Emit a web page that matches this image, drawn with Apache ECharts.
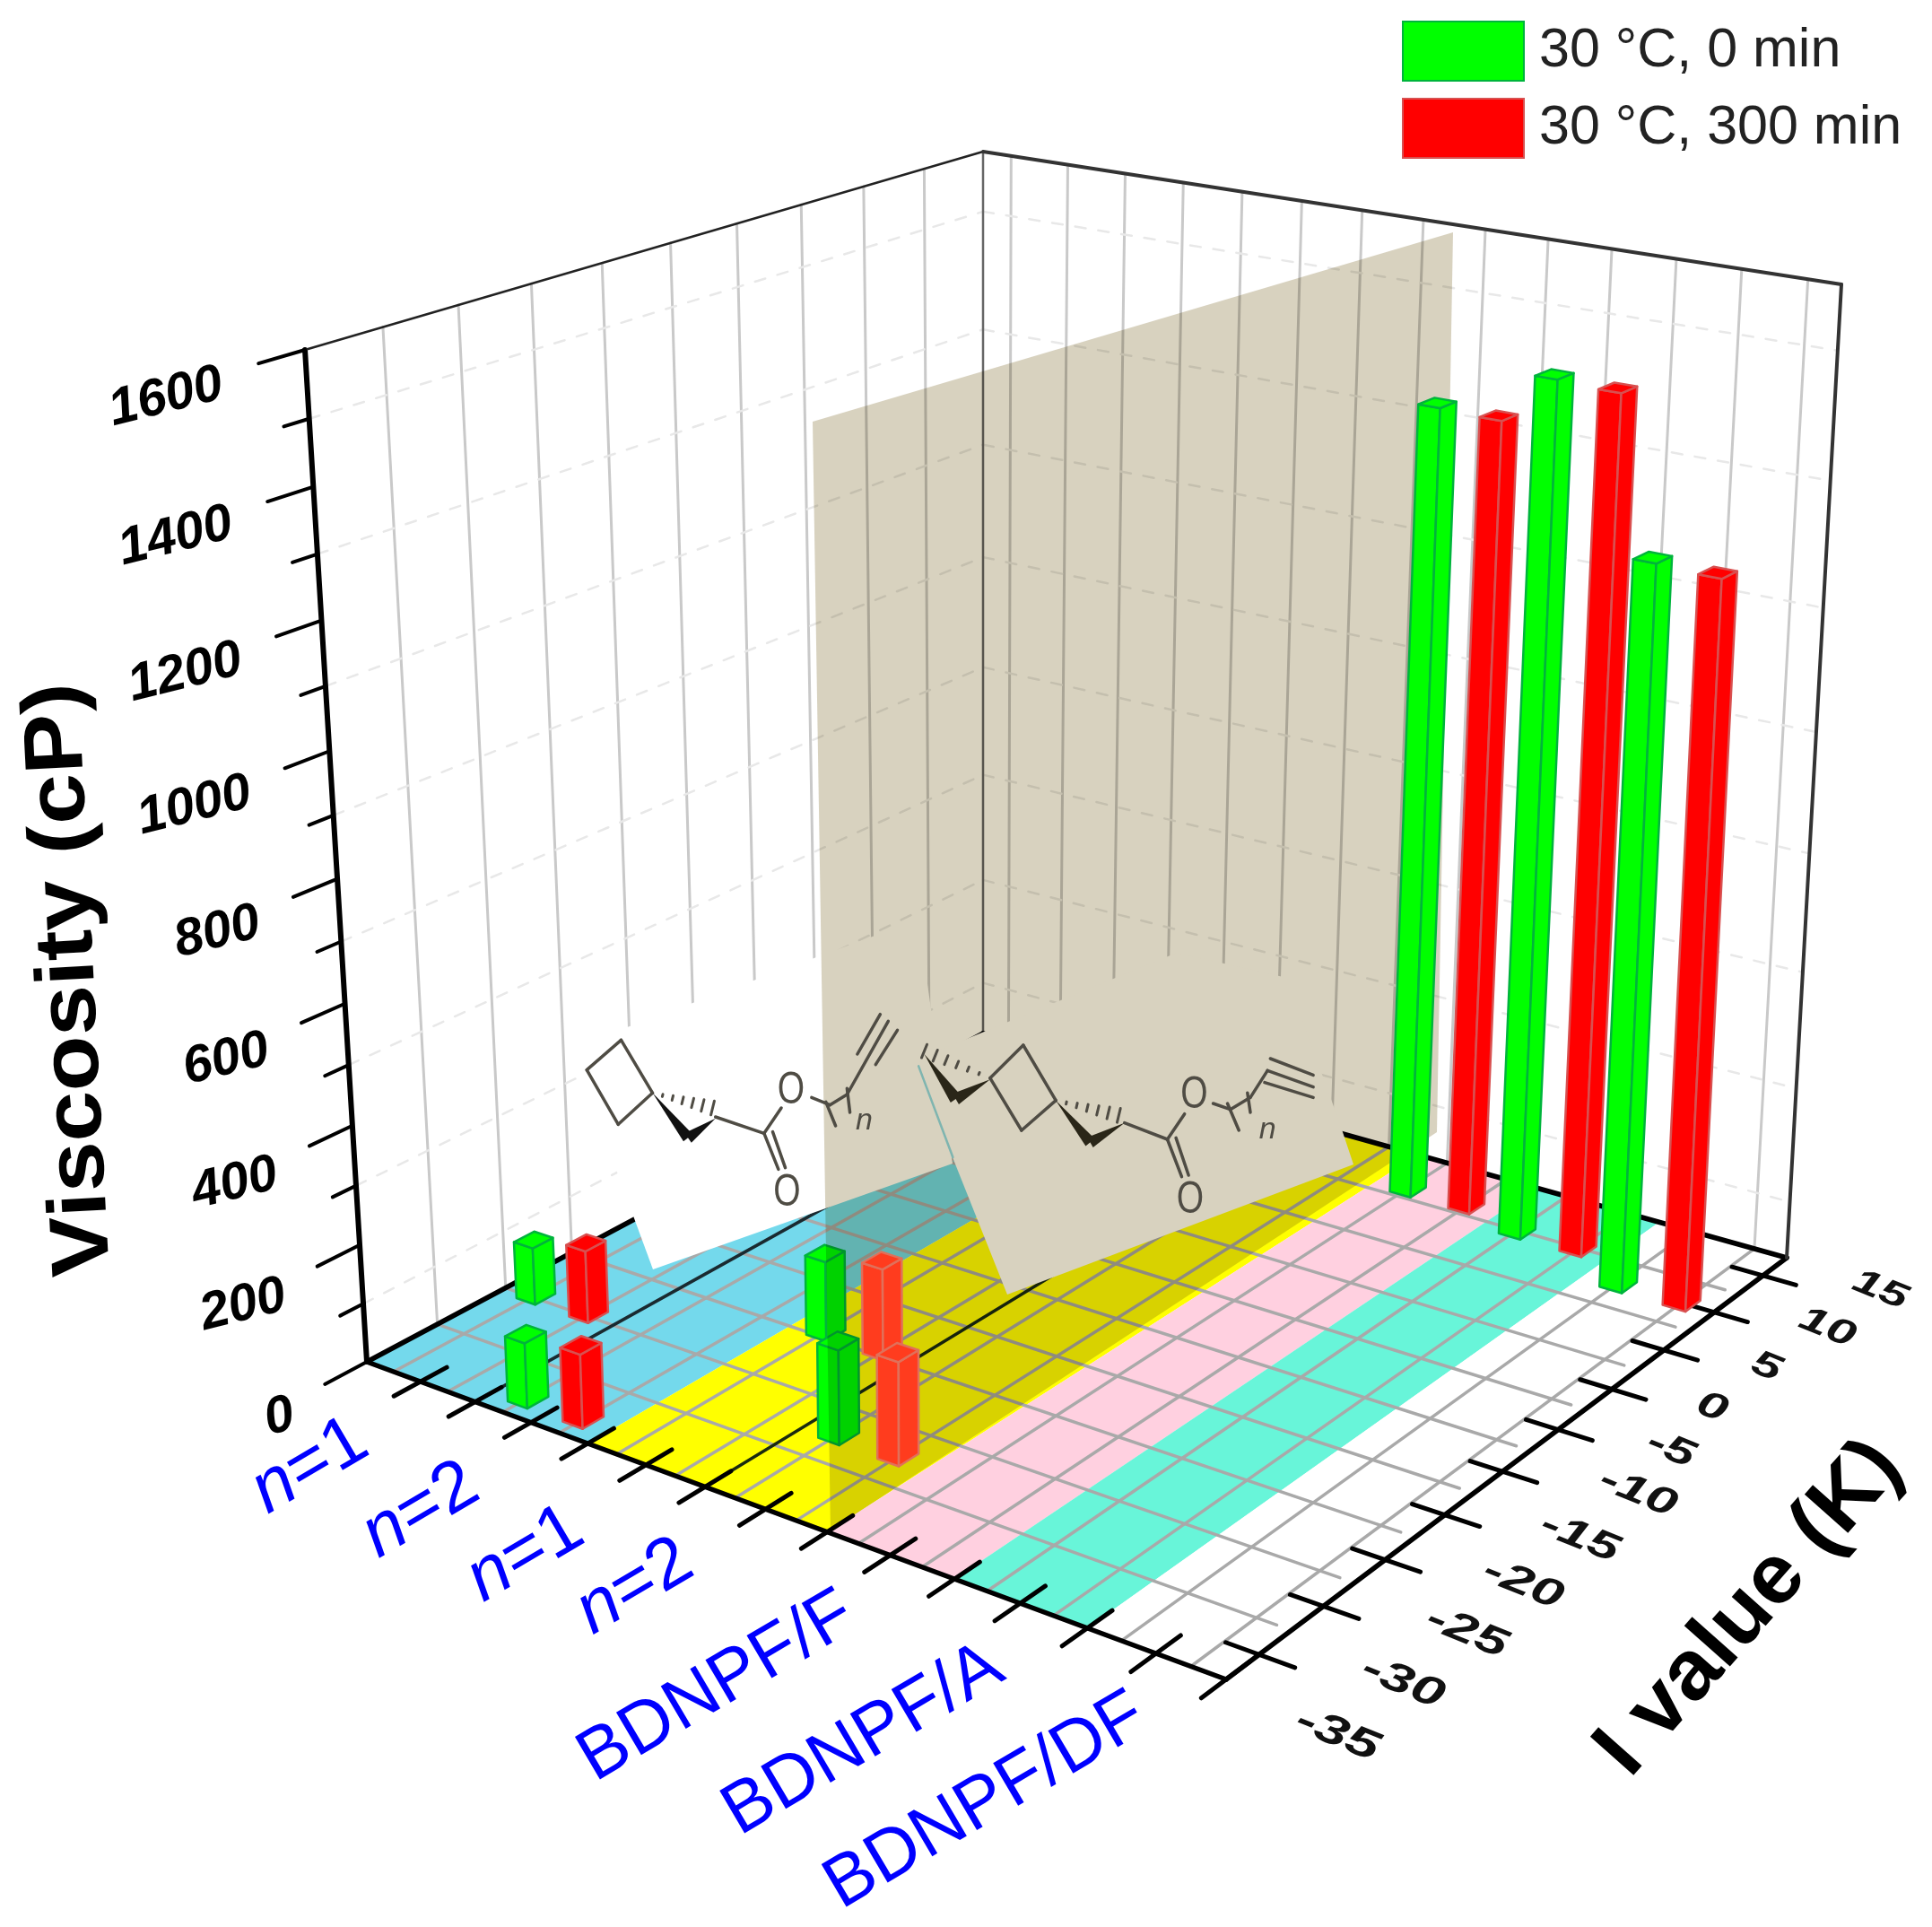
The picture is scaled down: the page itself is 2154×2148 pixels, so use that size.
<!DOCTYPE html>
<html><head><meta charset="utf-8">
<style>html,body{margin:0;padding:0;background:#fff}#c{width:2154px;height:2148px}</style>
<script src="https://cdn.jsdelivr.net/npm/echarts@6/dist/echarts.min.js"></script>
</head><body><div id="c"></div>
<script>
const categories=['n=1','n=2','n=1','n=2','BDNPF/F','BDNPF/A','BDNPF/DF'];
const iValues=[-22.3,-30.8,-17,-25,13.5,12.4,10];
const viscosity0=[99,110,137,157,1352,1439,1209];
const viscosity300=[125,124,156,171,1349,1435,1205];
const iTicks=[-35,-30,-25,-20,-15,-10,-5,0,5,10,15];
const zMajor=[0,200,400,600,800,1000,1200,1400,1600];
const zMinor=[100,300,500,700,900,1100,1300,1500];
const bandStart=[0,2,4,5,6];
const bandEnd=[2,4,5,6,7];
const bandColor=['#74d9ec','#ffff00','#ffd0e0','#68f5d9','#ffffff'];
const catNudgeX=[16,16,4,-8,33,52,59];
const catNudgeY=[16,18,18,3,9,11,8];
const iNudgeX=[14,14,15,10,8,10,-14,-27,-23,-10,-4];

// view calibration of the box: floor corners and top corners, in page pixels
const vA=[409,1518],vB=[1367,1872],vC=[1992,1402],vD=[1096,1152],vA2=[340,390],vB2=[1392,591],vC2=[2053,317],vD2=[1096,169];
function makeH(p0,p1,p2,p3){
  const sx=p0[0]-p1[0]+p2[0]-p3[0],sy=p0[1]-p1[1]+p2[1]-p3[1],dx1=p1[0]-p2[0],dx2=p3[0]-p2[0],dy1=p1[1]-p2[1],dy2=p3[1]-p2[1],den=dx1*dy2-dx2*dy1;
  const g=(sx*dy2-dx2*sy)/den,h=(dx1*sy-sx*dy1)/den;
  const a=p1[0]-p0[0]+g*p1[0],b=p3[0]-p0[0]+h*p3[0],c=p0[0],d=p1[1]-p0[1]+g*p1[1],e=p3[1]-p0[1]+h*p3[1],f=p0[1];
  return (s,t)=>{const W=g*s+h*t+1;return [(a*s+b*t+c)/W,(d*s+e*t+f)/W];};
}
const H0=makeH(vA,vB,vC,vD),H1=makeH(vA2,vB2,vC2,vD2),persp=1.095;
function proj(s,t,w){const b=H0(s,t),u=H1(s,t),f=w/(persp-(persp-1)*w);return [b[0]+(u[0]-b[0])*f,b[1]+(u[1]-b[1])*f];}
const tOf=i=>(i+32.5)/50, wOf=z=>z/1600;

const FF='"Liberation Sans",Arial,sans-serif';
const chart=echarts.init(document.getElementById('c'));
function line(api,a,b,color,w,z2,dash){const p=api.coord(a),q=api.coord(b);
  return {type:'line',shape:{x1:p[0],y1:p[1],x2:q[0],y2:q[1]},style:{stroke:color,lineWidth:w,lineDash:dash||null,lineCap:'round'},z2};}
function poly(api,pts,fill,stroke,w,z2){return {type:'polygon',shape:{points:pts.map(p=>api.coord(p))},style:{fill,stroke:stroke||null,lineWidth:w||0,lineJoin:'round'},z2};}
function text(api,p,str,o){const c=api.coord(p);return {type:'text',x:c[0],y:c[1],scaleX:o.sx||1,rotation:(o.rot||0)*Math.PI/180,style:Object.assign({text:str,fontFamily:FF,align:'center',verticalAlign:'middle',fill:'#000'},o.style),z2:o.z2||8};}

function renderFrame(params,api){
  const ch=[];
  const Nx=14,Ny=10;
  for(let i=1;i<=9;i++){const t=i/Ny;ch.push(line(api,proj(0,t,0),proj(0,t,1),'#c9c9c9',3,1));}
  for(let i=0;i<Nx;i++){const s=(i+.5)/Nx;ch.push(line(api,proj(s,1,0),proj(s,1,1),'#c9c9c9',3,1));}
  zMinor.forEach(z=>{const w=wOf(z);
    ch.push(line(api,proj(0,0,w),proj(0,1,w),'#e8e8e8',2.5,1,[12,14]));
    ch.push(line(api,proj(0,1,w),proj(1,1,w),'#e8e8e8',2.5,1,[12,14]));});
  bandStart.forEach((b,i)=>{const s0=b/7,s1=bandEnd[i]/7;
    ch.push(poly(api,[proj(s0,0,0),proj(s1,0,0),proj(s1,1,0),proj(s0,1,0)],bandColor[i],null,0,2));});
  for(let i=0;i<Nx;i++){const s=(i+.5)/Nx;ch.push(line(api,proj(s,0,0),proj(s,1,0),'#a9a9a9',3.5,3));}
  for(let i=1;i<=9;i++){const t=i/Ny;ch.push(line(api,proj(0,t,0),proj(.985,t,0),'#a9a9a9',3.5,3));}
  ch.push(line(api,proj(2/14,0,0),proj(2/14,1,0),'#1a2a30',3.5,4));
  ch.push(line(api,proj(6/14,0,0),proj(6/14,1,0),'#1a2a10',3.5,4));
  ch.push(line(api,proj(0,0,0),proj(0,1,0),'#000',5.5,5));
  ch.push(line(api,proj(0,1,0),proj(1,1,0),'#000',5.5,5));
  ch.push(line(api,proj(0,0,0),proj(1,0,0),'#000',5.5,5));
  ch.push(line(api,proj(1,0,0),proj(1,1,0),'#000',5.5,5));
  ch.push(line(api,proj(0,0,0),proj(0,0,1),'#000',6,5));
  ch.push(line(api,proj(0,0,1),proj(0,1,1),'#222',2.5,5));
  ch.push(line(api,proj(0,1,1),proj(1,1,1),'#333',4,5));
  ch.push(line(api,proj(0,1,0),proj(0,1,1),'#666',2.5,1));
  ch.push(line(api,proj(1,1,0),proj(1,1,1),'#333',4,5));
  zMajor.forEach(z=>{const w=wOf(z);ch.push(line(api,proj(0,0,w),proj(0,-.058,w),'#000',4,5));});
  zMinor.forEach(z=>{const w=wOf(z);ch.push(line(api,proj(0,0,w),proj(0,-.032,w),'#000',4,5));});
  for(let i=1;i<=14;i++){const s=i/14;ch.push(line(api,proj(s,-.037,0),proj(s,.037,0),'#000',5,5));}
  iTicks.slice(1).forEach(v=>{const t=tOf(v);ch.push(line(api,proj(.966,t,0),proj(1.036,t,0),'#000',5,5));});
  zMajor.forEach(z=>{const w=wOf(z);const p=proj(0,-.12,w);
    ch.push(text(api,[p[0]+16,p[1]+6],String(z),{rot:14,style:{align:'right',fontSize:58,fontWeight:'bold',fontStyle:'italic'}}));});
  iTicks.forEach((v,i)=>{const t=tOf(v),p=proj(1.13,t,0);
    ch.push(text(api,[p[0]+iNudgeX[i],p[1]-22],String(v),{rot:-22,sx:1.45,style:{fontSize:46-i*.7,fontWeight:'bold',fontStyle:'italic',fill:'#111'}}));});
  categories.forEach((c,i)=>{const s=(2*i+1)/14,p=proj(s,-.1,0);
    const isN=c.startsWith('n=');
    ch.push(text(api,[p[0]+catNudgeX[i],p[1]+catNudgeY[i]],isN?'{i|n}'+c.slice(1):c,{rot:30.5,style:{align:'right',fontSize:80,fill:'#0000ff',rich:isN?{i:{fontStyle:'italic',fontSize:80,fill:'#0000ff',fontFamily:FF}}:undefined}}));});
  ch.push(text(api,[79,1092],'Viscosity (cP)',{rot:93,sx:1.1,style:{fontSize:92,fontWeight:'bold'}}));
  ch.push(text(api,[1951,1793],'I value (K)',{rot:48.5,sx:1.03,style:{fontSize:94,fontWeight:'bold'}}));
  return {type:'group',children:ch};
}
function renderShade(params,api){
  return poly(api,[[906,470],[1620,259],[1602,1262],[926,1706]],'#d8d2bf',null,0,30);
}
function Zp(px,py){return [600+px/1.568,1100+py/3];}
function wedge(api,tip,wide,w,col,z2){const a=Zp(tip[0],tip[1]),b=Zp(wide[0],wide[1]);const dx=b[0]-a[0],dy=b[1]-a[1],L=Math.hypot(dx,dy),nx=-dy/L*w/2,ny=dx/L*w/2;
  return poly(api,[a,[b[0]+nx,b[1]+ny],[b[0]-nx,b[1]-ny]],col,null,0,z2);}
function hashed(api,tip,end,w,col,z2){const a=Zp(tip[0],tip[1]),b=Zp(end[0],end[1]);const dx=b[0]-a[0],dy=b[1]-a[1],L=Math.hypot(dx,dy),nx=-dy/L,ny=dx/L,out=[];
  for(let k=1;k<=6;k++){const f=k/6,cx=a[0]+dx*f,cy=a[1]+dy*f,h=w*f/2;out.push(line(api,[cx+nx*h,cy+ny*h],[cx-nx*h,cy-ny*h],col,3,z2));}return out;}
function renderPaper(params,api){
  const ch=[],col='#4f4c44',Z=33;
  const L=(pts,w)=>{for(let i=0;i<pts.length-1;i++)ch.push(line(api,Zp(pts[i][0],pts[i][1]),Zp(pts[i+1][0],pts[i+1][1]),col,w||3.5,Z));};
  const O=(x,y)=>ch.push(text(api,Zp(x,y),'O',{sx:.78,style:{fontSize:50,fill:col},z2:Z}));
  const N=(x,y)=>ch.push(text(api,Zp(x,y),'n',{style:{fontSize:34,fontStyle:'italic',fill:col},z2:Z}));
  ch.push(poly(api,[[637,1168],[1024,1025],[1062,1297],[728,1415]],'#fff',null,0,6));
  ch.push(poly(api,[[1024,1180],[1312,1062],[1435,1090],[1493,1250],[1509,1298],[1123,1443],[1062,1290]],'#d8d2bf',null,0,31));
  ch.push(line(api,Zp(665,265),Zp(725,570),'#7fb5b0',2.5,32));
  L([[145,178],[85,278],[140,460],[200,355],[145,178]]);
  L([[310,435],[395,490],[425,405]]);L([[395,490],[420,610]]);L([[410,485],[432,605]]);
  L([[478,370],[510,395],[540,360],[612,115]]);L([[503,385],[520,465]]);L([[540,340],[545,420]]);
  L([[558,225],[598,92]]);L([[590,260],[628,145]]);
  ch.push(wedge(api,[200,355],[262,505],13,'#111',Z),wedge(api,[310,440],[262,505],13,'#111',Z));
  ch.push(...hashed(api,[200,355],[305,405],16,col,Z));
  O(442,350);O(435,690);N(570,450);
  L([[790,305],[848,195],[905,380],[845,480],[790,305]]);
  L([[1025,455],[1100,510],[1130,425]]);L([[1100,510],[1125,635]]);L([[1115,505],[1137,630]]);
  L([[1180,390],[1210,410],[1245,370],[1275,280]]);L([[1205,390],[1225,480]]);L([[1240,355],[1245,420]]);
  L([[1280,240],[1355,295]]);L([[1275,280],[1355,335]]);L([[1270,320],[1355,370]]);
  ch.push(wedge(api,[790,310],[730,375],14,'#2a2618',Z),wedge(api,[675,225],[730,375],14,'#2a2618',Z));
  ch.push(wedge(api,[905,380],[965,520],13,'#2a2618',Z),wedge(api,[1025,455],[965,520],13,'#2a2618',Z));
  ch.push(...hashed(api,[790,305],[675,215],16,col,Z));
  ch.push(...hashed(api,[905,380],[1015,430],16,col,Z));
  O(1147,365);O(1140,715);N(1275,478);
  return {type:'group',children:ch};
}
const hx=.0125,hy=.015;
function bar(api,s,t,w,fill,stroke,z2){
  const s0=s-hx,s1=s+hx,t0=t-hy,t1=t+hy;
  return {type:'group',children:[
    poly(api,[proj(s0,t0,0),proj(s1,t0,0),proj(s1,t0,w),proj(s0,t0,w)],fill,stroke,2.5,z2),
    poly(api,[proj(s1,t0,0),proj(s1,t1,0),proj(s1,t1,w),proj(s1,t0,w)],fill,stroke,2.5,z2),
    poly(api,[proj(s0,t0,w),proj(s1,t0,w),proj(s1,t1,w),proj(s0,t1,w)],fill,stroke,2.5,z2)
  ]};
}
// x position on the category axis: two slots per category, one bar on each side of its centre
function greenBars(params,api){const i=params.dataIndex,s=(2*api.value(0)+.52)/14,t=tOf(api.value(1)),w=wOf(api.value(2));
  const low=i===2||i===3;return bar(api,s,t,w,'#00ff00','#00b43c',low?20+5*(s-t):100+20*(s-t));}
function redBars(params,api){const i=params.dataIndex,s=(2*api.value(0)+1.5)/14,t=tOf(api.value(1)),w=wOf(api.value(2));
  const low=i===2||i===3;return bar(api,s,t,w,low?'#ff3c1e':'#ff0000',low?'#e0705a':'#d85050',100+20*(s-t));}
const rows=v=>categories.map((c,i)=>[i,iValues[i],v[i]]);
const base={type:'custom',coordinateSystem:'cartesian2d',silent:true};
chart.setOption({
  animation:false,backgroundColor:'#fff',
  grid:{left:0,right:0,top:0,bottom:0},
  xAxis:{type:'value',min:0,max:2154,show:false},
  yAxis:{type:'value',min:0,max:2148,inverse:true,show:false},
  legend:{orient:'vertical',left:1558,top:18,itemWidth:135,itemHeight:66,itemGap:18,icon:'rect',selectedMode:false,
    textStyle:{fontFamily:FF,fontSize:61,color:'#222',padding:[2,0,0,12]},data:['30 °C, 0 min','30 °C, 300 min']},
  series:[
    Object.assign({name:'frame',data:[[0,0]],renderItem:renderFrame},base),
    Object.assign({name:'paper',data:[[0,0]],renderItem:renderPaper},base),
    Object.assign({name:'shade',data:[[0,0]],renderItem:renderShade,blendMode:'multiply'},base),
    Object.assign({name:'30 °C, 0 min',itemStyle:{color:'#00ff00',borderColor:'#00b43c',borderWidth:2},data:rows(viscosity0),renderItem:greenBars},base),
    Object.assign({name:'30 °C, 300 min',itemStyle:{color:'#ff0000',borderColor:'#d85050',borderWidth:2},data:rows(viscosity300),renderItem:redBars},base)
  ]
});
</script></body></html>
